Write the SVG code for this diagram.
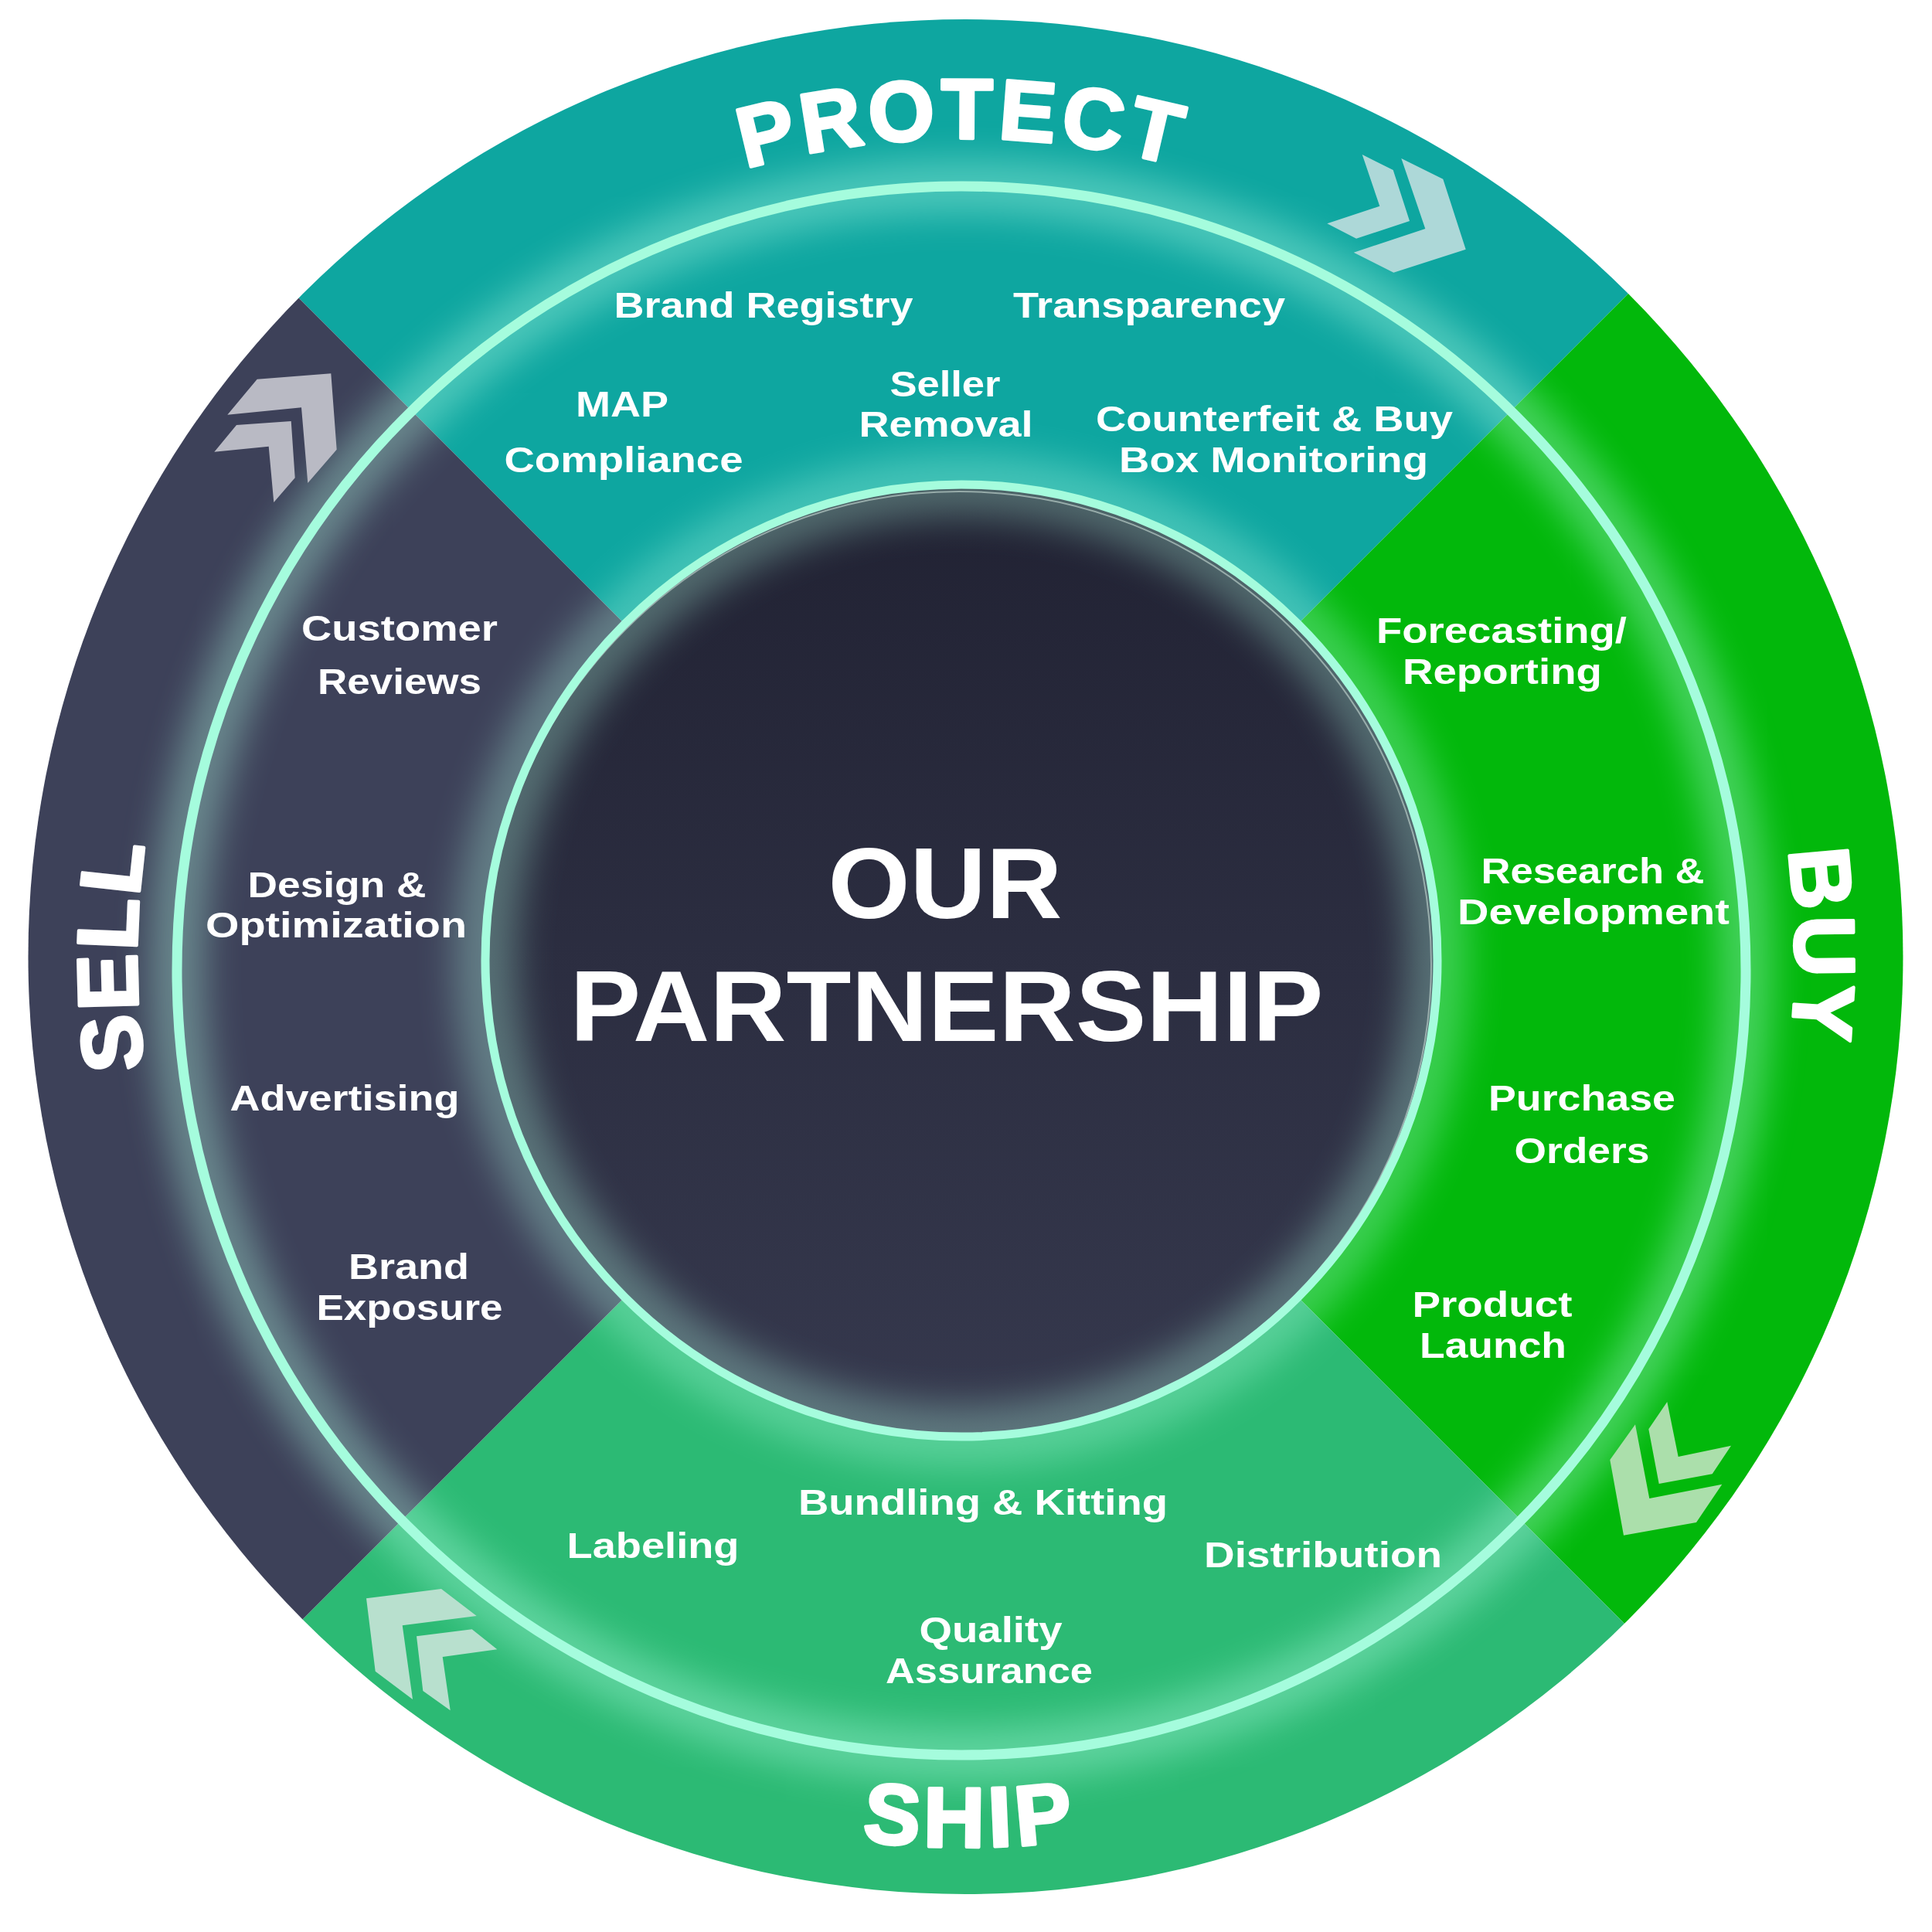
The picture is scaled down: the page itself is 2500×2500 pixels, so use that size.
<svg xmlns="http://www.w3.org/2000/svg" width="2500" height="2500" viewBox="0 0 2500 2500">
<defs>
<style>
.lbl{font-family:"Liberation Sans","Open Sans",sans-serif;font-weight:700;font-size:46px;fill:#ffffff;text-anchor:middle}
.big{font-family:"Liberation Sans","Open Sans",sans-serif;font-weight:700;font-size:110px;fill:#ffffff;stroke:#ffffff;stroke-width:4;stroke-linejoin:round;text-anchor:middle}
.title{font-family:"Liberation Sans","Open Sans",sans-serif;font-weight:700;font-size:130px;fill:#ffffff;text-anchor:middle}
.mint{fill:none;stroke:#a5fcdd}
.glow{fill:none;stroke:#b4ffe6;filter:url(#blur)}
</style>
<clipPath id="disc"><circle cx="1249.5" cy="1238" r="1213"/></clipPath>
<filter id="blur" x="-20%" y="-20%" width="140%" height="140%"><feGaussianBlur stdDeviation="24"/></filter>
<linearGradient id="centerFill" x1="0" y1="0" x2="0" y2="1">
<stop offset="0" stop-color="#212233"/>
<stop offset="1" stop-color="#36394e"/>
</linearGradient>
<path id="pathProtect" d="M 499.8 489.8 A 1061 1061 0 0 1 2000.2 489.8" fill="none"/>
<path id="pathSell" d="M 489.9 1998.1 A 1075 1075 0 0 1 489.9 481.9" fill="none"/>
<path id="pathBuy" d="M 2010.1 481.9 A 1075 1075 0 0 1 2010.1 1998.1" fill="none"/>
<path id="pathShip" d="M 435.4 2052.6 A 1152 1152 0 0 0 2064.6 2052.6" fill="none"/>
</defs>

<rect width="2500" height="2500" fill="#ffffff"/>

<g clip-path="url(#disc)">
<g id="node-protect">
<polygon points="1244,1243 -1000,-1001 3500,-1013" fill="#0ea6a0"/>
</g>
<g id="node-buy">
<polygon points="1244,1243 3500,-1013 3500,3499" fill="#02b80b"/>
</g>
<g id="node-ship">
<polygon points="1244,1243 3500,3499 -1000,3487" fill="#2cba74"/>
</g>
<g id="node-sell">
<polygon points="1244,1243 -1000,3487 -1000,-1001" fill="#3d4159"/>
</g>
<circle class="glow" cx="1244" cy="1256" r="1015" stroke-width="70" opacity="0.38"/>
</g>

<g id="node-center">
<circle cx="1244" cy="1243" r="616" fill="url(#centerFill)"/>
<circle class="glow" cx="1244" cy="1243" r="616" stroke-width="80" opacity="0.32"/>
<circle cx="1241" cy="1247" r="611" fill="none" stroke="#c9dcd6" stroke-width="2" opacity="0.6"/>
<circle class="mint" cx="1244" cy="1243" r="616" stroke-width="11"/>
<text class="title" x="1223" y="1188" textLength="303" lengthAdjust="spacingAndGlyphs">OUR</text>
<text class="title" x="1225" y="1347" textLength="975" lengthAdjust="spacingAndGlyphs">PARTNERSHIP</text>
</g>

<circle class="mint" cx="1244" cy="1256" r="1015" stroke-width="13"/>

<g id="connectors"></g>

<g id="protect-content">
<text class="big" letter-spacing="6"><textPath href="#pathProtect" startOffset="49.7%">PROTECT</textPath></text>
<polygon points="1762.7,200 1802.7,220 1824,286 1755,308.7 1717.3,289.3 1785.3,266.7" fill="#add8d8"/>
<polygon points="1813.3,205 1867.3,231.7 1896.7,322.7 1803.3,352.7 1751.7,326.7 1844.3,296" fill="#add8d8"/>
<text class="lbl" x="988" y="411" textLength="387" lengthAdjust="spacingAndGlyphs">Brand Registry</text>
<text class="lbl" x="1487" y="411" textLength="352" lengthAdjust="spacingAndGlyphs">Transparency</text>
<text class="lbl" x="805" y="539" textLength="120" lengthAdjust="spacingAndGlyphs">MAP</text>
<text class="lbl" x="807" y="611" textLength="309" lengthAdjust="spacingAndGlyphs">Compliance</text>
<text class="lbl" x="1223" y="513" textLength="143" lengthAdjust="spacingAndGlyphs">Seller</text>
<text class="lbl" x="1224" y="565" textLength="225" lengthAdjust="spacingAndGlyphs">Removal</text>
<text class="lbl" x="1649" y="558" textLength="462" lengthAdjust="spacingAndGlyphs">Counterfeit &amp; Buy</text>
<text class="lbl" x="1648" y="611" textLength="400" lengthAdjust="spacingAndGlyphs">Box Monitoring</text>
</g>

<g id="buy-content">
<text class="big" letter-spacing="6"><textPath href="#pathBuy" startOffset="49.1%">BUY</textPath></text>
<polygon points="2157.3,1814 2171.7,1885 2240,1870.7 2215.7,1907.3 2146.7,1920 2133.3,1849.3" fill="#abdfab"/>
<polygon points="2116,1843.3 2134.3,1939 2228.3,1920.7 2195,1970 2101,1986.7 2083.3,1889" fill="#abdfab"/>
<text class="lbl" x="1943" y="832" textLength="324" lengthAdjust="spacingAndGlyphs">Forecasting/</text>
<text class="lbl" x="1944" y="885" textLength="258" lengthAdjust="spacingAndGlyphs">Reporting</text>
<text class="lbl" x="2061" y="1143" textLength="289" lengthAdjust="spacingAndGlyphs">Research &amp;</text>
<text class="lbl" x="2062" y="1196" textLength="352" lengthAdjust="spacingAndGlyphs">Development</text>
<text class="lbl" x="2047" y="1437" textLength="242" lengthAdjust="spacingAndGlyphs">Purchase</text>
<text class="lbl" x="2047" y="1505" textLength="175" lengthAdjust="spacingAndGlyphs">Orders</text>
<text class="lbl" x="1931" y="1704" textLength="207" lengthAdjust="spacingAndGlyphs">Product</text>
<text class="lbl" x="1932" y="1757" textLength="190" lengthAdjust="spacingAndGlyphs">Launch</text>
</g>

<g id="ship-content">
<text class="big" letter-spacing="6"><textPath href="#pathShip" startOffset="50.3%">SHIP</textPath></text>
<polygon points="474,2068.3 571,2056 616.7,2091 520.7,2103.3 534,2199 485.7,2162.7" fill="#b8e0ce"/>
<polygon points="539,2117.3 610.7,2108.3 643.3,2134.3 572.7,2144 582.7,2213.3 547.3,2188" fill="#b8e0ce"/>
<text class="lbl" x="1272" y="1960" textLength="478" lengthAdjust="spacingAndGlyphs">Bundling &amp; Kitting</text>
<text class="lbl" x="845" y="2016" textLength="223" lengthAdjust="spacingAndGlyphs">Labeling</text>
<text class="lbl" x="1712" y="2028" textLength="308" lengthAdjust="spacingAndGlyphs">Distribution</text>
<text class="lbl" x="1282" y="2125" textLength="185" lengthAdjust="spacingAndGlyphs">Quality</text>
<text class="lbl" x="1280" y="2178" textLength="268" lengthAdjust="spacingAndGlyphs">Assurance</text>
</g>

<g id="sell-content">
<text class="big" letter-spacing="3"><textPath href="#pathSell" startOffset="50.2%">SELL</textPath></text>
<polygon points="332.7,490.7 428.3,483.3 435.7,581.7 398.3,625 390,527.3 294.3,536.7" fill="#b9bac4"/>
<polygon points="306,550 376.7,545 381.7,618.3 354.3,650 347.7,577.7 277.3,584.7" fill="#b9bac4"/>
<text class="lbl" x="517" y="829" textLength="254" lengthAdjust="spacingAndGlyphs">Customer</text>
<text class="lbl" x="517" y="898" textLength="212" lengthAdjust="spacingAndGlyphs">Reviews</text>
<text class="lbl" x="436" y="1161" textLength="231" lengthAdjust="spacingAndGlyphs">Design &amp;</text>
<text class="lbl" x="435" y="1213" textLength="338" lengthAdjust="spacingAndGlyphs">Optimization</text>
<text class="lbl" x="446" y="1437" textLength="297" lengthAdjust="spacingAndGlyphs">Advertising</text>
<text class="lbl" x="529" y="1655" textLength="156" lengthAdjust="spacingAndGlyphs">Brand</text>
<text class="lbl" x="530" y="1708" textLength="241" lengthAdjust="spacingAndGlyphs">Exposure</text>
</g>
</svg>
